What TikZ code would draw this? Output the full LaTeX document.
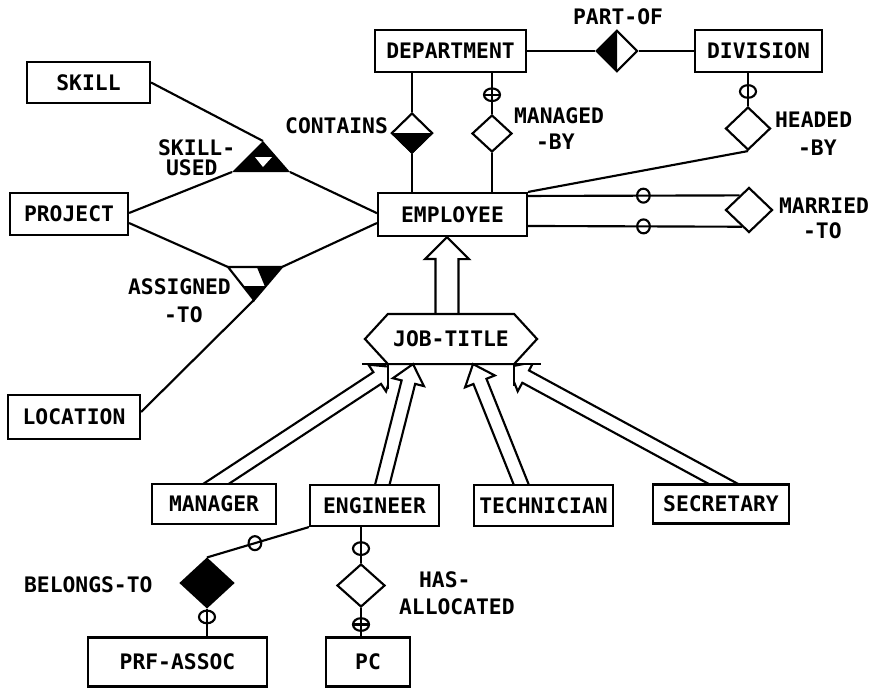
\documentclass[tikz,border=0pt]{standalone}
\usepackage{fontspec}
\setmonofont{DejaVu Sans Mono}[BoldFont=DejaVu Sans Mono Bold]
\usetikzlibrary{calc,shapes.geometric}
\newcommand\hollowarrow[5]{%
  \path ($(#2)!#5!(#1)$) coordinate (hab);
  \draw ($(#1)!#3!90:(#2)$) -- ($(hab)!#3!90:(#2)$) -- ($(hab)!#4!90:(#2)$) -- (#2) -- ($(hab)!#4!-90:(#2)$) -- ($(hab)!#3!-90:(#2)$) -- ($(#1)!#3!-90:(#2)$);%
}
\begin{document}
\begin{tikzpicture}[x=0.75pt,y=-0.75pt,line width=1.6pt,
  every node/.style={font=\ttfamily\bfseries\fontsize{16}{19}\selectfont},
  ent/.style={draw,rectangle,inner sep=0pt},
  rel/.style={draw,diamond,inner sep=0pt},
  lab/.style={inner sep=0pt,align=left},
  opt/.style={draw,ellipse,inner sep=0pt,minimum width=12pt,minimum height=9.5pt},
  optc/.style={draw,ellipse,inner sep=0pt,minimum width=9.5pt,minimum height=10.5pt},
  optbar/.style={opt,path picture={\draw ([xshift=-1pt]path picture bounding box.west) -- ([xshift=1pt]path picture bounding box.east);}}]
\useasboundingbox (0,0) rectangle (872,689);

% entities
\node[ent,minimum width=113.25pt,minimum height=31.5pt] (dep) at (450.5,51) {DEPARTMENT};
\node[ent,minimum width=95.25pt,minimum height=31.5pt] (div) at (758.5,51) {DIVISION};
\node[ent,minimum width=92.25pt,minimum height=30.75pt] (skill) at (88.5,82.5) {SKILL};
\node[ent,minimum width=88.5pt,minimum height=31.5pt] (proj) at (69,214) {PROJECT};
\node[ent,minimum width=111.75pt,minimum height=32.25pt] (emp) at (452.5,214.5) {EMPLOYEE};
\node[ent,minimum width=99pt,minimum height=33pt] (loc) at (74,417) {LOCATION};
\node[ent,minimum width=93pt,minimum height=30pt] (mgr) at (214,504) {MANAGER};
\node[ent,minimum width=96.75pt,minimum height=30.75pt] (eng) at (374.5,505.5) {ENGINEER};
\node[ent,minimum width=104.25pt,minimum height=30.75pt] (tech) at (543.5,505.5) {TECHNICIAN};
\node[ent,minimum width=102pt,minimum height=29.25pt] (sec) at (721,504) {SECRETARY};
\node[ent,minimum width=134.25pt,minimum height=36.75pt] (prf) at (177.5,662) {PRF-ASSOC};
\node[ent,minimum width=63pt,minimum height=36.75pt] (pc) at (368,662) {PC};

% relationships
\node[rel,minimum width=30.75pt,minimum height=30.75pt] (po) at (617,51) {};
\node[rel,minimum width=30.75pt,minimum height=30pt] (con) at (412,133) {};
\node[rel,minimum width=30pt,minimum height=27.75pt] (mb) at (492,133.5) {};
\node[rel,minimum width=33.75pt,minimum height=32.25pt] (hb) at (748,128.5) {};
\node[rel,minimum width=35.25pt,minimum height=33.75pt] (mt) at (749,210) {};
\node[rel,fill=black,minimum width=39.75pt,minimum height=36.75pt] (bt) at (207,583) {};
\node[rel,minimum width=36pt,minimum height=32.25pt] (hal) at (361,585.5) {};
\fill (po.north) -- (po.west) -- (po.south) -- cycle;
\fill (con.west) -- (con.south) -- (con.east) -- cycle;

% job-title
\node[inner sep=0pt,minimum width=93pt,minimum height=36pt] (jt) at (451,339) {JOB-TITLE};
\draw (jt.north west) -- (jt.north east) -- ($(jt.east)+(23,0)$) -- (jt.south east) -- (jt.south west) -- ($(jt.west)+(-23,0)$) -- cycle;
\draw ($(jt.south west)+(-26,0)$) -- ($(jt.south east)+(27,0)$);

% ternary relationships
\coordinate (su) at (263,141);
\coordinate (suL) at (232,172);
\coordinate (suR) at (290,172);
\fill (su) -- (suL) -- (suR) -- cycle;
\fill[white] ($(su)+(-8,16)$) -- ($(su)+(9,16)$) -- ($(su)+(0,26)$) -- cycle;
\coordinate (atL) at (228,267);
\coordinate (atR) at (282,267);
\coordinate (atB) at (254,300);
\coordinate (atM) at (258,267);
\fill (atM) -- (atR) -- ($(atR)!0.576!(atB)$) -- cycle;
\fill ($(atL)!0.576!(atB)$) -- ($(atR)!0.576!(atB)$) -- (atB) -- cycle;
\draw (atL) -- (atR) -- (atB) -- cycle;
\draw (atM) -- ($(atR)!0.576!(atB)$);

% connectors
\draw (dep.east) -- (po.west);
\draw (po.east) -- (div.west);
\draw (con.north |- dep.south) -- (con.north);
\draw (con.south) -- (con.south |- emp.north);
\draw (mb.north |- dep.south) -- node[optbar,pos=0.53] (o1) {} (mb.north);
\draw (mb.south) -- (mb.south |- emp.north);
\draw (hb.north |- div.south) -- node[opt,pos=0.56] (o2) {} (hb.north);
\draw (hb.south) -- (emp.north east);
\draw ([yshift=13.9pt]emp.east) -- node[optc,pos=0.545] (o3) {} ($(mt.west)!0.62!(mt.north)$);
\draw ([yshift=-8.6pt]emp.east) -- node[optc,pos=0.54] (o4) {} ($(mt.west)!0.71!(mt.south)$);
\draw (skill.east) -- (su);
\draw ([yshift=0.75pt]proj.east) -- (suL);
\draw (suR) -- ([yshift=1pt]emp.west);
\draw ([yshift=-6.75pt]proj.east) -- (atL);
\draw (atR) -- ([yshift=-6.4pt]emp.west);
\draw (atB) -- ([yshift=3.75pt]loc.east);
\draw (eng.south west) -- node[optc,pos=0.53] (o5) {} (bt.north);
\draw (bt.south) -- node[opt,pos=0.3] (o6) {} (bt.south |- prf.north);
\draw (hal.north |- eng.south) -- node[opt,pos=0.6] (o7) {} (hal.north);
\draw (hal.south) -- node[optbar,pos=0.58] (o8) {} (hal.south |- pc.north);

% ISA arrows
\coordinate (eA) at ([xshift=-3pt]jt.north);
\coordinate (eB) at ([xshift=-4.1pt]emp.south);
\hollowarrow{eA}{eB}{8.6pt}{16.5pt}{16.5pt}
\coordinate (mB) at ($(jt.south west)+(6,3)$);
\coordinate (mA0) at ([xshift=2.6pt]mgr.north);
\coordinate (mA) at ($(mB)!1.1!(mA0)$);
\coordinate (gB) at ($(jt.south)+(-38,0)$);
\coordinate (gA0) at ([xshift=6pt]eng.north);
\coordinate (gA) at ($(gB)!1.1!(gA0)$);
\coordinate (tB) at ($(jt.south)+(22,0)$);
\coordinate (tA0) at ([xshift=-16.9pt]tech.north);
\coordinate (tA) at ($(tB)!1.1!(tA0)$);
\coordinate (sB) at ($(jt.south east)+(-6,3)$);
\coordinate (sA0) at ([xshift=1.1pt]sec.north);
\coordinate (sA) at ($(sB)!1.1!(sA0)$);
\begin{scope}
\clip ($(jt.south)+(-200,-4)$) rectangle ($(jt.south |- eng.north)+(200,0)$);
\hollowarrow{gA}{gB}{5.25pt}{12pt}{14pt}
\hollowarrow{tA}{tB}{5.25pt}{12pt}{14pt}
\end{scope}
\begin{scope}
\clip ($(jt.south west)+(-300,0)$) rectangle (jt.south west |- mgr.north);
\hollowarrow{mA}{mB}{5.25pt}{12pt}{15pt}
\end{scope}
\begin{scope}
\clip (jt.south east) rectangle ($(jt.south east |- sec.north)+(350,0)$);
\hollowarrow{sA}{sB}{5.25pt}{12.5pt}{15pt}
\end{scope}
\draw (jt.south west) -- ++(0,25);
\draw (jt.south east) -- ++(0,22);

% labels
\node[lab,anchor=west] (lpo) at (572,17) {PART-OF};
\node[lab,anchor=east] (lcon) at (389,126) {CONTAINS};
\node[lab,anchor=west,font=\ttfamily\bfseries\fontsize{16}{19.5}\selectfont] (lmb) at (513,128.5) {MANAGED\\\hspace*{16.5pt}-BY};
\node[lab,anchor=west,font=\ttfamily\bfseries\fontsize{16}{21}\selectfont] (lhb) at (774,134) {HEADED\\\hspace*{17.25pt}-BY};
\node[lab,anchor=west,font=\ttfamily\bfseries\fontsize{16}{18.75}\selectfont] (lmt) at (778,218.5) {MARRIED\\\hspace*{18pt}-TO};
\node[lab,anchor=west,font=\ttfamily\bfseries\fontsize{16}{15}\selectfont] (lsu) at (157,158) {SKILL-\\\hspace*{6pt}USED};
\node[lab,anchor=west,font=\ttfamily\bfseries\fontsize{16}{21}\selectfont] (lat) at (127,301) {ASSIGNED\\\hspace*{27pt}-TO};
\node[lab,anchor=west,font=\ttfamily\bfseries\fontsize{16}{20.25}\selectfont] (lha) at (398,593) {\hspace*{15pt}HAS-\\ALLOCATED};
\node[lab,anchor=west] (lbt) at (23,585) {BELONGS-TO};
\end{tikzpicture}
\end{document}
